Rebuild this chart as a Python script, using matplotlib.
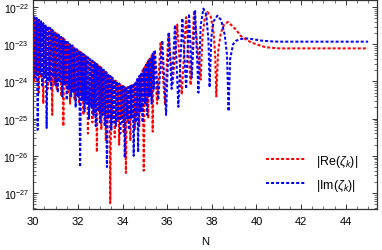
import numpy as np
import matplotlib
matplotlib.use("Agg")
from matplotlib import pyplot as plt
from matplotlib.ticker import LogLocator, MultipleLocator, NullFormatter

# all values are log10 of the magnitude

# dense part (30 .. 35.4): tops on the upper envelope, bottoms at the dips
re_top_n = np.round(np.arange(30.0, 35.45, 0.1), 2)
re_top = [-22.24, -22.28, -22.33, -22.37, -22.42, -22.46, -22.51, -22.55, -22.60, -22.64,
          -22.69, -22.73, -22.78, -22.83, -22.87, -22.92, -22.97, -23.01, -23.06, -23.11,
          -23.16, -23.20, -23.25, -23.29, -23.34, -23.38, -23.43, -23.47, -23.52, -23.56,
          -23.60, -23.66, -23.71, -23.77, -23.82, -23.88, -23.93, -23.98, -24.03, -24.08,
          -24.12, -24.15, -24.16, -24.14, -24.10, -24.05, -23.98, -23.90, -23.80, -23.70,
          -23.60, -23.50, -23.40, -23.30, -23.20]
re_bot_n = np.round(np.arange(30.05, 35.4, 0.1), 2)
re_bot = [-24.0, -23.8, -24.3, -23.9, -24.6, -23.9, -24.2, -24.0, -24.9, -24.1,
          -24.2, -24.0, -24.4, -25.2, -24.1, -24.3, -24.6, -24.2, -24.5, -24.3,
          -24.6, -24.4, -24.9, -24.5, -25.4, -24.6, -25.1, -24.7, -25.9, -24.8,
          -25.3, -24.9, -25.6, -25.0, -27.27, -25.0, -25.5, -25.1, -25.7, -25.0,
          -25.4, -26.46, -25.1, -25.6, -25.0, -25.3, -24.9, -25.2, -24.8, -26.4,
          -24.6, -25.0, -24.4, -25.35]
# sparse part (35.4 .. 45)
re_tail_n = [35.55, 35.7, 35.9, 36.05, 36.25, 36.45, 36.65, 36.85, 37.05, 37.2,
             37.5, 37.58, 37.68, 37.8, 37.95, 38.08, 38.15, 38.2, 38.28, 38.4,
             38.55, 38.72, 38.9, 39.1, 39.3, 39.55, 39.8, 40.1, 40.4, 41.0,
             42.0, 43.0, 44.0, 45.0]
re_tail = [-24.6, -22.97, -24.6, -22.72, -24.05, -22.47, -24.35, -22.27, -24.1, -22.1,
           -23.95, -22.8, -22.3, -22.13, -22.25, -22.7, -23.3, -24.4, -23.2, -22.7,
           -22.47, -22.4, -22.5, -22.62, -22.78, -22.88, -22.96, -23.02, -23.08, -23.11,
           -23.11, -23.11, -23.11, -23.11]

im_top_n = np.round(np.arange(30.05, 35.5, 0.1), 2)
im_top = [-22.25, -22.29, -22.34, -22.38, -22.43, -22.47, -22.52, -22.56, -22.61, -22.66,
          -22.70, -22.75, -22.80, -22.84, -22.89, -22.94, -22.98, -23.03, -23.08, -23.13,
          -23.17, -23.22, -23.26, -23.31, -23.35, -23.40, -23.44, -23.49, -23.53, -23.58,
          -23.63, -23.68, -23.74, -23.79, -23.85, -23.90, -23.95, -24.00, -24.05, -24.10,
          -24.13, -24.15, -24.15, -24.12, -24.07, -24.01, -23.94, -23.85, -23.75, -23.65,
          -23.55, -23.45, -23.35, -23.25, -23.15]
im_bot_n = np.round(np.arange(30.1, 35.45, 0.1), 2)
im_bot = [-23.9, -25.3, -23.8, -24.1, -23.9, -25.25, -24.0, -24.2, -23.9, -24.1,
          -24.3, -24.0, -24.4, -24.1, -24.5, -24.2, -24.4, -24.3, -24.7, -24.4,
          -26.3, -24.5, -24.8, -24.6, -25.0, -24.7, -24.9, -25.2, -24.8, -25.1,
          -24.9, -25.2, -26.3, -25.0, -25.3, -25.1, -25.2, -25.0, -25.4, -25.1,
          -26.05, -25.0, -25.3, -25.0, -26.0, -25.1, -25.9, -24.8, -25.1, -24.6,
          -24.9, -24.4, -24.6, -24.2]
im_tail_n = [35.6, 35.78, 35.95, 36.08, 36.2, 36.35, 36.5, 36.68, 36.85, 36.98,
             37.1, 37.25, 37.4, 37.5, 37.62, 37.75, 37.85, 37.9, 37.98, 38.08,
             38.25, 38.42, 38.58, 38.68, 38.75, 38.82, 38.95, 39.1, 39.3, 39.5,
             39.8, 40.2, 40.6, 41.0, 42.0, 43.0, 44.0, 45.0]
im_tail = [-24.5, -22.9, -24.9, -22.68, -24.2, -22.48, -24.68, -22.3, -24.2, -22.18,
           -23.9, -22.08, -24.3, -22.5, -22.04, -22.2, -22.9, -24.16, -22.8, -22.38,
           -22.23, -22.35, -22.75, -23.3, -24.8, -23.4, -23.0, -22.9, -22.86, -22.84,
           -22.86, -22.9, -22.92, -22.93, -22.93, -22.93, -22.93, -22.93]

labels = [r'$|\mathrm{Re}(\zeta_k)|$', r'$|\mathrm{Im}(\zeta_k)|$']
y_ticks = [1e-27, 1e-26, 1e-25, 1e-24, 1e-23, 1e-22]


def join(top_n, top, bot_n, bot, tail_n, tail):
    # merge the envelope samples and the dips in N order, then add the tail
    n = np.concatenate([top_n, bot_n])
    v = np.concatenate([top, bot])
    order = np.argsort(n, kind='stable')
    n = np.concatenate([n[order], tail_n])
    v = np.concatenate([v[order], tail])
    return n, 10.0 ** v


plt.rcParams.update({'font.size': 8,
                     'font.family': 'Liberation Sans',
                     'mathtext.fontset': 'custom',
                     'mathtext.rm': 'Liberation Sans',
                     'mathtext.it': 'Liberation Sans:italic',
                     'mathtext.bf': 'Liberation Sans:bold'})

re_n, re_v = join(re_top_n, re_top, re_bot_n, re_bot, re_tail_n, re_tail)
im_n, im_v = join(im_top_n, im_top, im_bot_n, im_bot, im_tail_n, im_tail)

fig = plt.figure(figsize=(3.82, 2.51), dpi=100)
ax = fig.add_axes([0.087, 0.163, 0.900, 0.833])

dash = (0, (1.5, 1.0))
ax.plot(re_n, re_v, color='red', lw=1.45, linestyle=dash, label=labels[0])
ax.plot(im_n, im_v, color='blue', lw=1.45, linestyle=dash, label=labels[1])

ax.set_yscale('log')
ax.set_xlim(30, 45.4)
ax.set_ylim(10 ** -27.43, 10 ** -21.81)
ax.xaxis.set_major_locator(MultipleLocator(2))
ax.xaxis.set_minor_locator(MultipleLocator(0.5))
ax.set_yticks(y_ticks)
ax.yaxis.set_minor_locator(LogLocator(base=10, subs=np.arange(2, 10), numticks=20))
ax.yaxis.set_minor_formatter(NullFormatter())
ax.tick_params(which='both', direction='in', top=True, right=True, color='#333333')
ax.tick_params(which='major', length=3.5, width=0.7)
ax.tick_params(which='minor', length=2, width=0.5)
ax.tick_params(axis='x', which='major', pad=5)
ax.tick_params(axis='y', which='major', pad=3, labelsize=7.5)
for s in ax.spines.values():
    s.set_color('#333333')
    s.set_linewidth(0.9)

ax.set_xlabel('N', labelpad=7)

ax.legend(loc='upper left', bbox_to_anchor=(0.66, 0.30), frameon=False, fontsize=9,
          handlelength=3.2, handletextpad=0.8, labelspacing=0.65, borderpad=0)

fig.savefig('out.png', dpi=100)
